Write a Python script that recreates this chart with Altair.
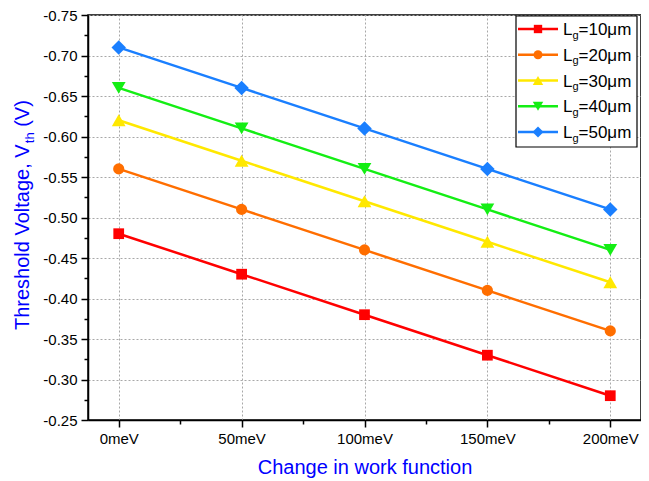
import altair as alt
import pandas as pd

# ---------------- data ----------------
work_fn = [0, 50, 100, 150, 200]  # meV
series = ["Lg=10μm", "Lg=20μm", "Lg=30μm", "Lg=40μm", "Lg=50μm"]
gate_len = ["=10μm", "=20μm", "=30μm", "=40μm", "=50μm"]
vth_10 = [-0.48, -0.43, -0.38, -0.33, -0.28]
vth_20 = [-0.56, -0.51, -0.46, -0.41, -0.36]
vth_30 = [-0.62, -0.57, -0.52, -0.47, -0.42]
vth_40 = [-0.66, -0.61, -0.56, -0.51, -0.46]
vth_50 = [-0.71, -0.66, -0.61, -0.56, -0.51]
y_major = [-0.75, -0.70, -0.65, -0.60, -0.55, -0.50, -0.45, -0.40, -0.35, -0.30, -0.25]
y_minor = [-0.725, -0.675, -0.625, -0.575, -0.525, -0.475, -0.425, -0.375, -0.325, -0.275]
x_minor = [25, 75, 125, 175]

colors = ["#FF0000", "#FF6E00", "#FFE800", "#14EE14", "#1A7FFF"]
shapes = ["square", "circle", "triangle-up", "triangle-down", "diamond"]
sizes = [115, 125, 190, 190, 210]
legend_sizes = [70, 80, 110, 110, 120]

FONT = "Liberation Sans"
BLUE = "#0000FF"

rows = []
for name, vals in zip(series, [vth_10, vth_20, vth_30, vth_40, vth_50]):
    for x, v in zip(work_fn, vals):
        rows.append({"meV": x, "Vth": v, "Lg": name})
df = pd.DataFrame(rows)

x_dom = [-12.5, 212.5]
y_dom = [-0.75, -0.25]

color_enc = alt.Color("Lg:N", scale=alt.Scale(domain=series, range=colors), legend=None)

x_major_axis = alt.Axis(
    values=work_fn, labelExpr="datum.value + 'meV'", title="Change in work function",
    titleFont=FONT, titleFontSize=20, titleFontWeight="normal", titleColor=BLUE,
    titleY=53, titleBaseline="alphabetic",
    labelFont=FONT, labelFontSize=15, labelColor="#000", labelPadding=4,
    tickSize=7, tickWidth=1.5, tickColor="#000",
    domainColor="#000", domainWidth=1.5,
    grid=True, gridDash=[2, 2], gridColor="#a8a8a8", gridWidth=1, orient="bottom",
)
y_major_axis = alt.Axis(
    values=y_major, labelExpr="'-' + format(abs(datum.value), '.2f')", title=None,
    labelFont=FONT, labelFontSize=15, labelColor="#000", labelPadding=4,
    tickSize=7, tickWidth=1.5, tickColor="#000",
    domainColor="#000", domainWidth=1.5,
    grid=True, gridDash=[2, 2], gridColor="#a8a8a8", gridWidth=1, orient="left",
)

base = alt.Chart(df)
lines = base.mark_line(strokeWidth=2.5).encode(
    x=alt.X("meV:Q", scale=alt.Scale(domain=x_dom, nice=False, zero=False), axis=x_major_axis),
    y=alt.Y("Vth:Q", scale=alt.Scale(domain=y_dom, nice=False, zero=False, reverse=True), axis=y_major_axis),
    color=color_enc,
    detail="Lg:N",
)
point_layers = []
for name, shp, sz in zip(series, shapes, sizes):
    point_layers.append(
        base.transform_filter(alt.datum.Lg == name)
        .mark_point(filled=True, opacity=1, strokeWidth=0, shape=shp, size=sz)
        .encode(x="meV:Q", y="Vth:Q", color=color_enc)
    )
main = alt.layer(lines, *point_layers)

minor = base.mark_point(opacity=0).encode(
    x=alt.X("meV:Q", scale=alt.Scale(domain=x_dom, nice=False, zero=False),
            axis=alt.Axis(values=x_minor, labels=False, domain=False, grid=False, tickSize=4,
                          tickWidth=1.5, tickColor="#000", title=None, orient="bottom")),
    y=alt.Y("Vth:Q", scale=alt.Scale(domain=y_dom, nice=False, zero=False, reverse=True),
            axis=alt.Axis(values=y_minor, labels=False, domain=False, grid=False, tickSize=4,
                          tickWidth=1.5, tickColor="#000", title=None, orient="left")),
)

# ---------------- custom legend (subscripted labels) ----------------
leg_df = pd.DataFrame({"Lg": series, "num": gate_len})
leg_y = alt.Y("Lg:N", scale=alt.Scale(type="point", domain=series, range=[14, 117], padding=0), axis=None)
leg_base = alt.Chart(leg_df)
box = alt.Chart(pd.DataFrame({"a": [0]})).mark_rect(fill="white", stroke="#000", strokeWidth=1.2).encode(
    x=alt.value(428), x2=alt.value(549), y=alt.value(1), y2=alt.value(132))
leg_line = leg_base.mark_rule(strokeWidth=2.5).encode(
    x=alt.value(430), x2=alt.value(470), y=leg_y, color=color_enc)
leg_pts = []
for name, shp, sz in zip(series, shapes, legend_sizes):
    leg_pts.append(
        leg_base.transform_filter(alt.datum.Lg == name)
        .mark_point(filled=True, opacity=1, strokeWidth=0, shape=shp, size=sz)
        .encode(x=alt.value(450), y=leg_y, color=color_enc)
    )
leg_L = leg_base.mark_text(text="L", align="left", baseline="alphabetic", dy=6, fontSize=17,
                           font=FONT, color="#000").encode(x=alt.value(475), y=leg_y)
leg_g = leg_base.mark_text(text="g", align="left", baseline="alphabetic", dy=9.5, fontSize=11,
                           font=FONT, color="#000").encode(x=alt.value(484.5), y=leg_y)
leg_num = leg_base.mark_text(align="left", baseline="alphabetic", dy=6, fontSize=17,
                             font=FONT, color="#000").encode(x=alt.value(490.5), y=leg_y, text="num:N")
legend = alt.layer(box, leg_line, *leg_pts, leg_L, leg_g, leg_num)

# ---------------- y title with subscript ----------------
one = pd.DataFrame({"a": [0]})
yt1 = alt.Chart(one).mark_text(text="Threshold Voltage, V", angle=270, align="left", baseline="alphabetic",
                               fontSize=20, font=FONT, color=BLUE).encode(x=alt.value(-59), y=alt.value(315))
yt2 = alt.Chart(one).mark_text(text="th", angle=270, align="left", baseline="alphabetic",
                               fontSize=13, font=FONT, color=BLUE).encode(x=alt.value(-54.5), y=alt.value(128.2))
yt3 = alt.Chart(one).mark_text(text="(V)", angle=270, align="left", baseline="alphabetic",
                               fontSize=20, font=FONT, color=BLUE).encode(x=alt.value(-59), y=alt.value(111.8))

chart = alt.layer(main, minor, legend, yt1, yt2, yt3).resolve_scale(
    x="independent", y="independent"
).resolve_axis(x="independent", y="independent").properties(
    width=553, height=405,
    autosize=alt.AutoSizeParams(type="none"),
    padding={"left": 80, "top": 7, "right": 0, "bottom": 58},
    background="white",
).configure_view(stroke="#000", strokeWidth=1.5)

chart.save("out.html", embed_options={"renderer": "svg", "actions": False})
